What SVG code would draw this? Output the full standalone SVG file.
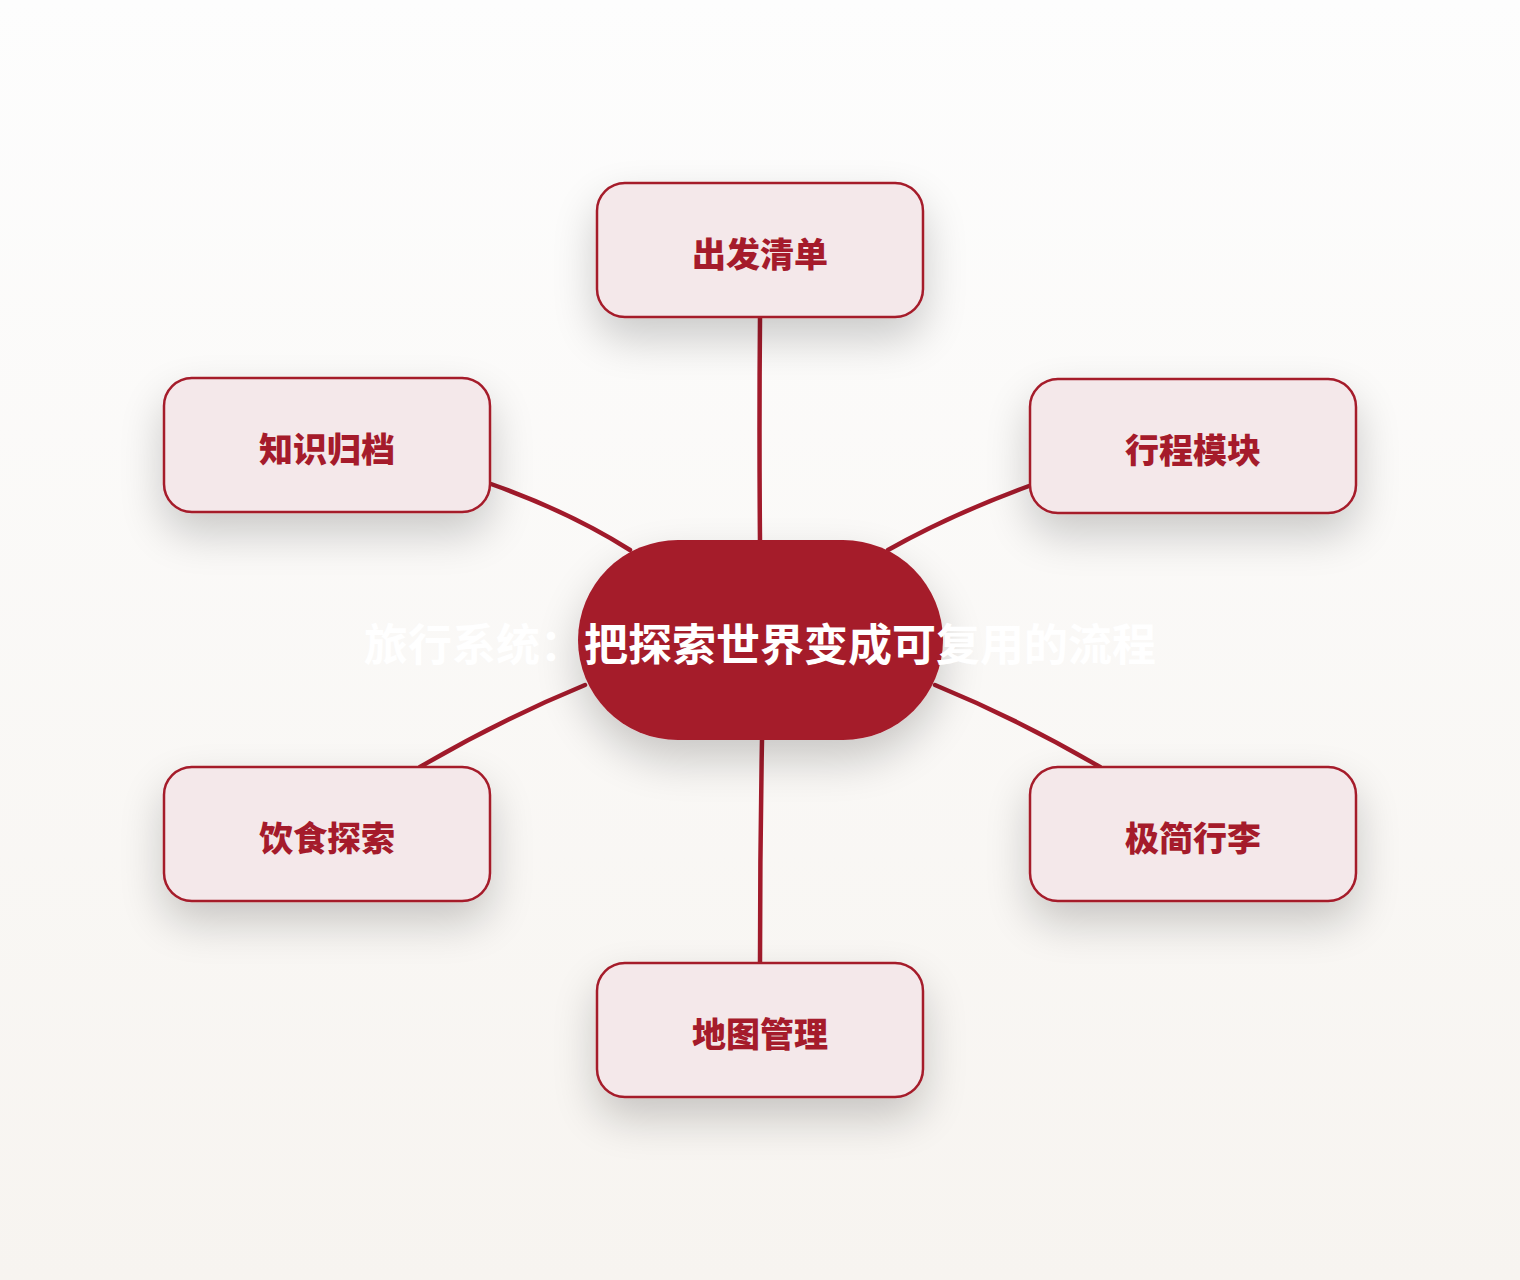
<svg xmlns="http://www.w3.org/2000/svg" width="1520" height="1280" viewBox="0 0 1520 1280">
<defs>
<linearGradient id="bg" x1="0" y1="0" x2="0" y2="1">
<stop offset="0" stop-color="#fdfdfd"/>
<stop offset="1" stop-color="#f7f4f0"/>
</linearGradient>
<filter id="sh" x="-40%" y="-50%" width="180%" height="220%">
<feGaussianBlur in="SourceAlpha" stdDeviation="22"/>
<feOffset dy="20" result="b"/>
<feComponentTransfer><feFuncA type="linear" slope="0.2"/></feComponentTransfer>
<feMerge><feMergeNode/><feMergeNode in="SourceGraphic"/></feMerge>
</filter>
<style>
.node rect{fill:#f4e8ea;stroke:#a51b2b;stroke-width:2.5}
.node text{fill:#a51b2b;font-family:"Noto Sans CJK SC","Noto Sans",sans-serif;font-weight:900;font-size:34px;text-anchor:middle;dominant-baseline:central}
.edge{fill:none;stroke:#a11a2b;stroke-width:4.5;stroke-linecap:round}
.center text{fill:#ffffff;font-family:"Noto Sans CJK SC","Noto Sans",sans-serif;font-weight:700;font-size:44px;text-anchor:middle;dominant-baseline:central}
</style>
</defs>
<rect width="1520" height="1280" fill="url(#bg)"/>
<g id="connectors">
<path class="edge" d="M760 318 Q759 430 760 542"/>
<path class="edge" d="M491 484 Q570 512 630 550"/>
<path class="edge" d="M1029 486 Q950 515 888 550"/>
<path class="edge" d="M585 685 Q500 720 420 767"/>
<path class="edge" d="M935 685 Q1020 720 1100 767"/>
<path class="edge" d="M762 740 Q760 850 760 962"/>
</g>
<g id="center" class="center">
<rect x="578" y="540" width="365" height="200" rx="100" ry="100" fill="#a51b2b" filter="url(#sh)"/>
<text x="760" y="642">旅行系统：把探索世界变成可复用的流程</text>
</g>
<g id="n1" class="node">
<rect x="597" y="183" width="326" height="134" rx="28" filter="url(#sh)"/>
<text x="760" y="252">出发清单</text>
</g>
<g id="n2" class="node">
<rect x="1030" y="379" width="326" height="134" rx="28" filter="url(#sh)"/>
<text x="1193" y="448">行程模块</text>
</g>
<g id="n3" class="node">
<rect x="1030" y="767" width="326" height="134" rx="28" filter="url(#sh)"/>
<text x="1193" y="836">极简行李</text>
</g>
<g id="n4" class="node">
<rect x="597" y="963" width="326" height="134" rx="28" filter="url(#sh)"/>
<text x="760" y="1032">地图管理</text>
</g>
<g id="n5" class="node">
<rect x="164" y="767" width="326" height="134" rx="28" filter="url(#sh)"/>
<text x="327" y="836">饮食探索</text>
</g>
<g id="n6" class="node">
<rect x="164" y="378" width="326" height="134" rx="28" filter="url(#sh)"/>
<text x="327" y="447">知识归档</text>
</g>
</svg>
